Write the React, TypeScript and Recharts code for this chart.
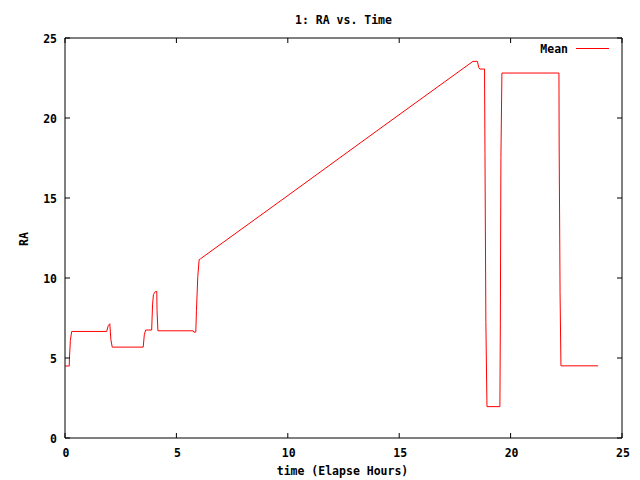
import React from 'react';
import {LineChart, Line, XAxis, YAxis, Legend} from 'recharts';

// elapsed hours and mean RA
const hours = [
  0, 0.19, 0.2, 0.24, 0.3, 1.87, 1.94, 2.01, 2.06, 2.12,
  3.51, 3.56, 3.62, 3.89, 3.93, 3.97, 4.06, 4.12, 4.13, 4.17,
  5.75, 5.78, 5.87, 5.9, 5.96, 6.02, 6.08, 10, 14, 18.31,
  18.51, 18.57, 18.62, 18.83, 18.85, 18.89, 18.94, 19.52, 19.54, 19.565,
  19.61, 22.17, 22.18, 22.22, 22.26, 23.93,
];
const meanRA = [
  4.5, 4.5, 5.0, 6.1, 6.66, 6.66, 7.02, 7.14, 6.14, 5.68,
  5.68, 6.45, 6.75, 6.75, 8.32, 8.97, 9.16, 9.16, 7.98, 6.7,
  6.7, 6.62, 6.62, 7.96, 10.1, 11.15, 11.2, 15.15, 19.2, 23.54,
  23.54, 23.16, 23.06, 23.06, 17.77, 7.22, 1.96, 1.96, 7.14, 17.52,
  22.81, 22.81, 18.25, 9.1, 4.51, 4.51,
];
const xTicks = [0, 5, 10, 15, 20, 25];
const yTicks = [0, 5, 10, 15, 20, 25];

const data = hours.map((t, i) => ({t, ra: meanRA[i]}));

const font = '"DejaVu Sans Mono", monospace';
const textStyle = {fontFamily: font, fontSize: 11.5, fontWeight: 'bold' as const, fill: '#000'};

const BottomTick = (props: any) => {
  const {x, y, payload} = props;
  return (
    <g>
      <line x1={x} y1={y} x2={x} y2={y - 5} stroke="#000" />
      <text x={x + 1} y={y + 15} textAnchor="middle" dominantBaseline="central" style={textStyle}>
        {payload.value}
      </text>
    </g>
  );
};

const LeftTick = (props: any) => {
  const {x, y, payload} = props;
  return (
    <g>
      <line x1={x} y1={y} x2={x + 5} y2={y} stroke="#000" />
      <text x={x - 8} y={y + 1} textAnchor="end" dominantBaseline="central" style={textStyle}>
        {payload.value}
      </text>
    </g>
  );
};

const TopTick = (props: any) => {
  const {x, y} = props;
  return <line x1={x} y1={y} x2={x} y2={y + 5} stroke="#000" />;
};

const RightTick = (props: any) => {
  const {x, y} = props;
  return <line x1={x} y1={y} x2={x - 5} y2={y} stroke="#000" />;
};

const LegendBox = () => (
  <svg width={115} height={16}>
    <text x={68} y={9} textAnchor="end" dominantBaseline="central" style={textStyle}>Mean</text>
    <line x1={76} y1={8.5} x2={109} y2={8.5} stroke="#ff0000" />
  </svg>
);

export default function App() {
  return (
    <div style={{position: 'absolute', left: 0, top: 0, width: 640, height: 480, background: '#fff'}}>
      <div
        style={{
          position: 'absolute', left: 65, top: 13, width: 557, textAlign: 'center',
          lineHeight: '14px', fontFamily: font, fontSize: 11.5, fontWeight: 'bold',
        }}
      >
        1: RA vs. Time
      </div>
      <LineChart width={640} height={480} data={data} margin={{top: 37, right: 17, bottom: 0, left: 0}}>
        <XAxis
          dataKey="t"
          type="number"
          domain={[0, 25]}
          ticks={xTicks}
          height={42}
          tickSize={0}
          tickMargin={0}
          tick={<BottomTick />}
          axisLine={{stroke: '#000'}}
          allowDataOverflow
          label={{
            content: (p: any) => (
              <text
                x={p.viewBox.x + p.viewBox.width / 2 - 1}
                y={471}
                textAnchor="middle"
                dominantBaseline="central"
                style={textStyle}
              >
                time (Elapse Hours)
              </text>
            ),
          }}
        />
        <XAxis
          xAxisId="top"
          dataKey="t"
          orientation="top"
          type="number"
          domain={[0, 25]}
          ticks={xTicks}
          height={1}
          tickSize={0}
          tickMargin={0}
          tick={<TopTick />}
          axisLine={{stroke: '#000'}}
          allowDataOverflow
        />
        <YAxis
          type="number"
          domain={[0, 25]}
          ticks={yTicks}
          width={65}
          tickSize={0}
          tickMargin={0}
          tick={<LeftTick />}
          axisLine={{stroke: '#000'}}
          allowDataOverflow
          label={{
            content: () => (
              <text
                x={24}
                y={239}
                textAnchor="middle"
                dominantBaseline="central"
                transform="rotate(-90 24 239)"
                style={textStyle}
              >
                RA
              </text>
            ),
          }}
        />
        <YAxis
          yAxisId="right"
          orientation="right"
          type="number"
          domain={[0, 25]}
          ticks={yTicks}
          width={1}
          tickSize={0}
          tickMargin={0}
          tick={<RightTick />}
          axisLine={{stroke: '#000'}}
          allowDataOverflow
        />
        <Legend
          layout="horizontal"
          verticalAlign="middle"
          align="center"
          content={() => <LegendBox />}
          wrapperStyle={{left: 500, top: 40, width: 115, height: 16}}
        />
        {/* hidden copy so the mirrored top/right axes get drawn */}
        <Line
          xAxisId="top"
          yAxisId="right"
          type="linear"
          dataKey="ra"
          stroke="none"
          dot={false}
          activeDot={false}
          legendType="none"
          isAnimationActive={false}
        />
        <Line
          type="linear"
          dataKey="ra"
          stroke="#ff0000"
          strokeWidth={1}
          dot={false}
          isAnimationActive={false}
        />
      </LineChart>
    </div>
  );
}
